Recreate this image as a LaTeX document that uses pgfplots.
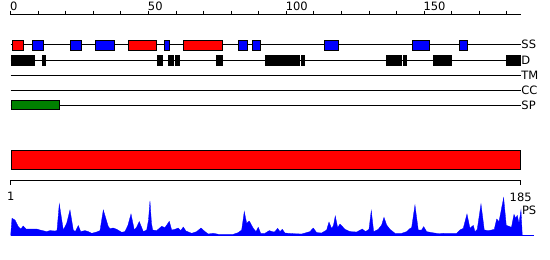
\documentclass[border=0pt]{standalone}
\usepackage{pgfplots}
\pgfplotsset{compat=1.18}
\usepackage{fontspec}
\setmainfont{DejaVu Sans}
\newcommand{\lbl}{\fontsize{11.5}{13}\selectfont}
% box: colour, start, end, y-top, y-bottom
\newcommand{\bx}[5]{\addplot[fill=#1, draw=black, line width=1pt, mark=none] coordinates {(#2,#4) (#3,#4) (#3,#5) (#2,#5)} -- cycle;}
\begin{document}
\begin{tikzpicture}
\useasboundingbox (0,0) rectangle (550pt,-260pt);
% ---------------- tracks + top ruler ----------------
\begin{axis}[
  at={(10.7pt,-14.7pt)}, anchor=north west,
  scale only axis, width=510pt, height=225.3pt,
  xmin=0, xmax=185, ymin=-240, ymax=-14.7,
  axis x line*=top, axis y line=none,
  axis line style={-, line width=1pt, black},
  xtick={0,50,100,150},
  minor xtick={10,20,30,40,60,70,80,90,110,120,130,140,160,170,180},
  tick align=outside,
  major tick length=4pt, minor tick length=4pt,
  every tick/.style={black, line width=1pt},
  /pgf/number format/assume math mode=true,
  xticklabel style={font=\lbl, anchor=south west, inner sep=0pt, xshift=-0.8pt, yshift=0pt},
  clip=false,
]
% row lines
\addplot[black, line width=1pt, mark=none] coordinates {(0,-44.3) (185,-44.3)};
\addplot[black, line width=1pt, mark=none] coordinates {(0,-60.3) (185,-60.3)};
\addplot[black, line width=1pt, mark=none] coordinates {(0,-75.3) (185,-75.3)};
\addplot[black, line width=1pt, mark=none] coordinates {(0,-90.0) (185,-90.0)};
\addplot[black, line width=1pt, mark=none] coordinates {(0,-105.0) (185,-105.0)};
% SS
\bx{red}{0.6}{4.6}{-40.5}{-50.2}
\bx{blue}{7.8}{11.8}{-40.5}{-50.2}
\bx{blue}{21.6}{25.7}{-40.5}{-50.2}
\bx{blue}{30.7}{37.6}{-40.5}{-50.2}
\bx{red}{42.7}{52.8}{-40.5}{-50.2}
\bx{blue}{55.7}{57.7}{-40.5}{-50.2}
\bx{red}{62.6}{76.8}{-40.5}{-50.2}
\bx{blue}{82.6}{86.0}{-40.5}{-50.2}
\bx{blue}{87.6}{90.5}{-40.5}{-50.2}
\bx{blue}{113.8}{119.0}{-40.5}{-50.2}
\bx{blue}{145.7}{151.8}{-40.5}{-50.2}
\bx{blue}{162.7}{165.6}{-40.5}{-50.2}
% D
\bx{black}{0.2}{8.7}{-55.8}{-65.2}
\bx{black}{11.7}{12.7}{-55.8}{-65.2}
\bx{black}{53.4}{54.9}{-55.8}{-65.2}
\bx{black}{57.4}{58.9}{-55.8}{-65.2}
\bx{black}{59.6}{61.1}{-55.8}{-65.2}
\bx{black}{74.5}{76.9}{-55.8}{-65.2}
\bx{black}{92.6}{104.7}{-55.8}{-65.2}
\bx{black}{105.5}{106.6}{-55.8}{-65.2}
\bx{black}{136.5}{141.8}{-55.8}{-65.2}
\bx{black}{142.5}{143.7}{-55.8}{-65.2}
\bx{black}{153.5}{160.0}{-55.8}{-65.2}
\bx{black}{179.8}{184.8}{-55.8}{-65.2}
% SP
\bx{green!50!black}{0.2}{17.6}{-100.5}{-109.5}
% full-length bar
\bx{red}{0.2}{184.8}{-150.5}{-169.8}
% row labels
\node[anchor=west, inner sep=0pt, font=\lbl] at (axis cs:185.2,-44.3) {SS};
\node[anchor=west, inner sep=0pt, font=\lbl] at (axis cs:185.2,-60.3) {D};
\node[anchor=west, inner sep=0pt, font=\lbl] at (axis cs:185.2,-75.3) {TM};
\node[anchor=west, inner sep=0pt, font=\lbl] at (axis cs:185.2,-90.0) {CC};
\node[anchor=west, inner sep=0pt, font=\lbl] at (axis cs:185.2,-105.0) {SP};
\end{axis}
% ---------------- bottom ruler ----------------
\begin{axis}[
  at={(10.7pt,-180.3pt)}, anchor=south west,
  scale only axis, width=510pt, height=2pt,
  xmin=1, xmax=185, ymin=0, ymax=1,
  axis x line*=bottom, axis y line=none,
  axis line style={-, line width=1pt, black},
  xtick={1,185},
  tick align=outside, major tick length=4.5pt,
  every tick/.style={black, line width=1pt},
  /pgf/number format/assume math mode=true,
  xticklabel style={font=\lbl, anchor=north, inner sep=0pt, yshift=-7.5pt},
  clip=false,
]
\addplot[draw=none] coordinates {(1,0) (185,0)};
\end{axis}
% ---------------- PS profile ----------------
\begin{axis}[
  at={(10.7pt,-235.3pt)}, anchor=south west,
  scale only axis, width=510pt, height=40pt,
  xmin=1, xmax=185, ymin=0, ymax=40,
  axis lines=none, clip=false,
]
\addplot[fill=blue, draw=blue, line width=0.3pt, mark=none] coordinates {
(1.00,0) (1.47,17) (2.55,15.3) (3.74,8.7) (4.61,6.3) (5.55,9.3) (6.52,6.3) (7.96,6.3)
(10.38,6.3) (11.57,5.3) (13.99,3.7) (15.18,4.7) (16.98,4.3) (17.70,4.7) (18.53,31.3)
(19.98,5.3) (21.20,12) (22.39,25.3) (23.58,5.3) (24.30,3.7) (25.39,9.7) (26.25,3.7)
(27.80,4.7) (28.99,3.7) (30.22,2) (32.02,3.3) (33.22,4.7) (34.41,25.3) (36.21,8.7)
(36.82,6.7) (38.01,7.3) (39.24,6) (41.04,3) (42.23,3.7) (43.30,10) (44.40,21.3)
(45.59,5.3) (46.40,8) (47.39,13.7) (48.84,3.7) (50.06,5.3) (50.71,15) (51.25,34.3)
(51.79,12) (52.23,5.3) (53.67,4.7) (55.47,9) (56.66,7.7) (58.22,14) (59.08,5.3)
(60.27,6) (61.46,7.3) (62.33,4.7) (63.27,8.3) (64.24,4.3) (66.30,2) (68.10,3.7)
(69.65,7.3) (71.09,3.7) (72.28,1.3) (74.09,2) (75.89,1) (81.30,1) (83.11,2.7)
(84.33,5.3) (85.27,23.7) (86.14,12) (87.07,14.3) (88.52,7) (89.49,3.7) (90.32,8)
(91.19,2) (92.74,2) (94.29,4.7) (95.73,3.3) (96.35,3.7) (97.32,7) (98.15,3.7)
(98.98,6) (99.95,2.3) (102.37,1.7) (105.98,1.3) (108.97,3.7) (110.16,7.3) (111.39,2.7)
(113.19,2.3) (114.99,5.3) (115.83,13.3) (116.80,6.7) (117.45,10) (118.10,19.3)
(118.97,7.7) (119.80,11.3) (121.60,6) (123.41,3.7) (125.82,3.3) (127.84,6.3)
(129.00,3.7) (130.26,6) (131.09,24.7) (131.95,3.7) (133.61,6) (134.84,10.3)
(135.67,18) (136.64,10.3) (137.83,6) (139.64,2) (142.05,2) (143.86,3.7) (144.79,6.3)
(145.66,7.7) (146.85,30.3) (148.04,5.3) (149.27,5.3) (149.99,8.7) (151.07,3.7)
(152.88,2.7) (155.26,1.7) (157.68,2) (161.90,2) (163.09,5.3) (164.28,7) (165.62,21.3)
(166.70,7) (167.89,10) (168.50,3.7) (169.33,6) (170.67,31.3) (171.86,5.3) (173.30,4.7)
(174.53,5.3) (175.47,6) (176.34,16.3) (177.17,13.7) (178.85,37.6) (179.79,10)
(180.77,9) (181.67,8) (182.58,21) (183.19,17) (183.77,20) (184.38,12) (185.10,25.3)
(185.57,0)
} -- cycle;
\addplot[blue, line width=1.3pt, mark=none] coordinates {(1,0) (189.8,0)};
\node[anchor=west, inner sep=0pt, font=\lbl] at (axis cs:185.4,25) {PS};
\end{axis}
\end{tikzpicture}
\end{document}
